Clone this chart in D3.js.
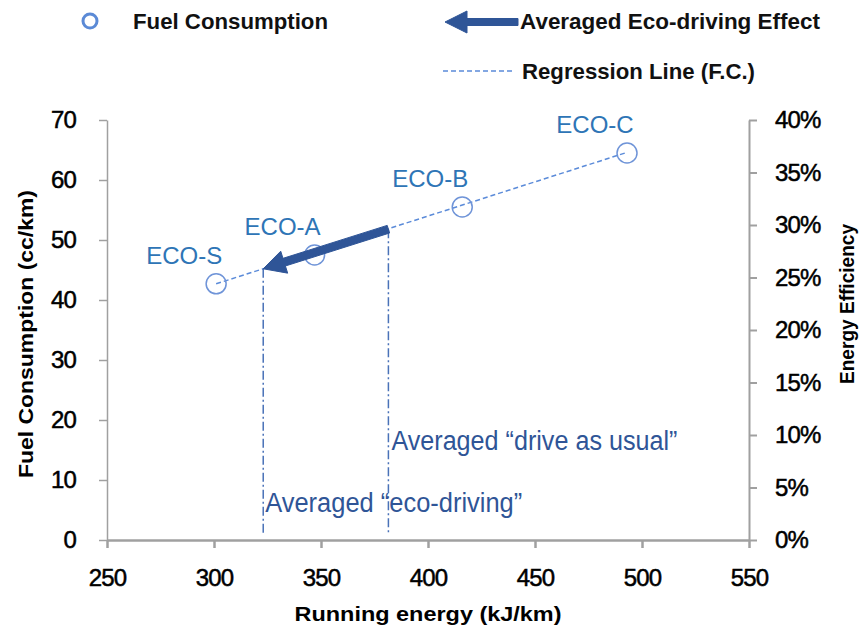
<!DOCTYPE html>
<html><head><meta charset="utf-8">
<script src="https://cdn.jsdelivr.net/npm/d3@7"></script>
<style>body{margin:0;background:#fff}svg{display:block}</style>
</head><body>
<svg id="c" width="861" height="632"></svg>
<script>
// ---- data ----
const pointLabels = ["ECO-S", "ECO-A", "ECO-B", "ECO-C"];
const runningEnergy = [301, 347, 416, 493];
const fuelConsumption = [42.7, 47.5, 55.5, 64.5];
const regressionX = [301, 493];
const regressionY = [42.7, 64.6];
const effectFrom = [381.5, 51.8];   // averaged "drive as usual"
const effectTo = [323, 45.2];       // averaged "eco-driving"
const xTicks = [250, 300, 350, 400, 450, 500, 550];
const yTicks = [0, 10, 20, 30, 40, 50, 60, 70];
const y2Ticks = [0, 0.05, 0.10, 0.15, 0.20, 0.25, 0.30, 0.35, 0.40];
const legendLabels = ["Fuel Consumption", "Averaged Eco-driving Effect", "Regression Line (F.C.)"];
const annotations = ["Averaged \u201ceco-driving\u201d", "Averaged \u201cdrive as usual\u201d"];

// ---- setup ----
const svg = d3.select("#c");
svg.append("rect").attr("width", 861).attr("height", 632).attr("fill", "#fff");
const x = d3.scaleLinear().domain([250, 550]).range([107, 749]);
const y = d3.scaleLinear().domain([0, 70]).range([540, 120]);
const y2 = d3.scaleLinear().domain([0, 0.4]).range([540, 120]);

const AX = "#a0a0a0";
const TICKFONT = "'Liberation Sans', Arial, sans-serif";
const BLUE_TXT = "#2e75b6";
const DARK_BLUE = "#2f5597";

function styleAxis(g, w) {
  g.selectAll("path.domain").attr("stroke", AX).attr("stroke-width", w);
  g.selectAll(".tick line").attr("stroke", AX).attr("stroke-width", w);
  g.selectAll(".tick text").attr("fill", "#000").attr("font-size", 24)
    .attr("font-family", TICKFONT).attr("stroke", "#000").attr("stroke-width", 0.5)
    .attr("letter-spacing", "-0.8");
}

// x axis
const gx = svg.append("g").attr("transform", `translate(0,${y(0)})`)
  .call(d3.axisBottom(x).tickValues(xTicks).tickSize(8).tickSizeOuter(0).tickPadding(21));
styleAxis(gx, 2.5);
// left axis
const gy = svg.append("g").attr("transform", `translate(${x(250)},0)`)
  .call(d3.axisLeft(y).tickValues(yTicks).tickSize(8).tickSizeOuter(0).tickPadding(23));
styleAxis(gy, 1.5);
// right axis
const gy2 = svg.append("g").attr("transform", `translate(${x(550)},0)`)
  .call(d3.axisRight(y2).tickValues(y2Ticks).tickSize(8).tickSizeOuter(0).tickPadding(18)
    .tickFormat(d3.format(".0%")));
styleAxis(gy2, 2);

// axis titles
svg.append("text").attr("x", 428).attr("y", 621).attr("text-anchor", "middle")
  .attr("font-family", TICKFONT).attr("font-weight", "bold").attr("font-size", 21)
  .attr("textLength", 267).attr("lengthAdjust", "spacingAndGlyphs")
  .text("Running energy (kJ/km)");
svg.append("text").attr("transform", "translate(33,334) rotate(-90)").attr("text-anchor", "middle")
  .attr("font-family", TICKFONT).attr("font-weight", "bold").attr("font-size", 21)
  .attr("textLength", 288).attr("lengthAdjust", "spacingAndGlyphs")
  .text("Fuel Consumption (cc/km)");
svg.append("text").attr("transform", "translate(854,304) rotate(-90)").attr("text-anchor", "middle")
  .attr("font-family", TICKFONT).attr("font-weight", "bold").attr("font-size", 21)
  .attr("textLength", 160).attr("lengthAdjust", "spacingAndGlyphs")
  .text("Energy Efficiency");

// regression line
svg.append("line")
  .attr("x1", x(regressionX[0])).attr("y1", y(regressionY[0]))
  .attr("x2", x(regressionX[1])).attr("y2", y(regressionY[1]))
  .attr("stroke", "#5b8bd9").attr("stroke-width", 1.5).attr("stroke-dasharray", "5,3");

// vertical dash-dot lines
[effectTo, effectFrom].forEach(p => {
  svg.append("line")
    .attr("x1", x(p[0])).attr("x2", x(p[0]))
    .attr("y1", y(p[1])).attr("y2", y(0.8))
    .attr("stroke", "#4a72b8").attr("stroke-width", 1.5).attr("stroke-dasharray", "9,3,2,3");
});

// points
svg.append("g").selectAll("circle").data(runningEnergy).join("circle")
  .attr("cx", d => x(d)).attr("cy", (d, i) => y(fuelConsumption[i])).attr("r", 10)
  .attr("fill", "none").attr("stroke", "#6f94d8").attr("stroke-width", 1.5);

// point labels
svg.append("g").selectAll("text").data(pointLabels).join("text")
  .attr("x", (d, i) => x(runningEnergy[i]) - 32).attr("y", (d, i) => y(fuelConsumption[i]) - 20)
  .attr("text-anchor", "middle").attr("font-family", TICKFONT).attr("font-size", 24)
  .attr("fill", BLUE_TXT).text(d => d);

// arrow shape
function arrowPoints(x0, y0, x1, y1, shaft, headLen, headW) {
  const dx = x1 - x0, dy = y1 - y0, len = Math.hypot(dx, dy);
  const ux = dx / len, uy = dy / len, nx = -uy, ny = ux;
  const bx = x1 - ux * headLen, by = y1 - uy * headLen;
  const pts = [
    [x0 + nx * shaft / 2, y0 + ny * shaft / 2],
    [bx + nx * shaft / 2, by + ny * shaft / 2],
    [bx + nx * headW / 2, by + ny * headW / 2],
    [x1, y1],
    [bx - nx * headW / 2, by - ny * headW / 2],
    [bx - nx * shaft / 2, by - ny * shaft / 2],
    [x0 - nx * shaft / 2, y0 - ny * shaft / 2]
  ];
  return pts.map(p => p.join(",")).join(" ");
}
svg.append("polygon")
  .attr("points", arrowPoints(x(effectFrom[0]), y(effectFrom[1]), x(effectTo[0]), y(effectTo[1]), 8, 22, 23))
  .attr("fill", DARK_BLUE).attr("stroke", DARK_BLUE).attr("stroke-width", 1).attr("stroke-linejoin", "round");

// annotations
svg.append("text").attr("x", x(effectTo[0]) + 2).attr("y", y(4.7))
  .attr("font-family", TICKFONT).attr("font-size", 27).attr("fill", DARK_BLUE)
  .attr("textLength", 257).attr("lengthAdjust", "spacingAndGlyphs").text(annotations[0]);
svg.append("text").attr("x", x(effectFrom[0]) + 3).attr("y", y(15))
  .attr("font-family", TICKFONT).attr("font-size", 27).attr("fill", DARK_BLUE)
  .attr("textLength", 286).attr("lengthAdjust", "spacingAndGlyphs").text(annotations[1]);

// legend
const lg = svg.append("g");
lg.append("circle").attr("cx", 90).attr("cy", 21).attr("r", 7)
  .attr("fill", "none").attr("stroke", "#5b8ad6").attr("stroke-width", 3);
lg.append("text").attr("x", 133).attr("y", 29).attr("font-family", TICKFONT)
  .attr("font-weight", "bold").attr("font-size", 22).attr("fill", "#111")
  .attr("textLength", 195).attr("lengthAdjust", "spacingAndGlyphs").text(legendLabels[0]);
lg.append("polygon").attr("points", arrowPoints(518, 22, 445, 22, 7, 22, 22))
  .attr("fill", DARK_BLUE).attr("stroke", DARK_BLUE).attr("stroke-width", 1).attr("stroke-linejoin", "round");
lg.append("text").attr("x", 520).attr("y", 29).attr("font-family", TICKFONT)
  .attr("font-weight", "bold").attr("font-size", 22).attr("fill", "#111")
  .attr("textLength", 300).attr("lengthAdjust", "spacingAndGlyphs").text(legendLabels[1]);
lg.append("line").attr("x1", 443).attr("x2", 513).attr("y1", 71).attr("y2", 71)
  .attr("stroke", "#5b8bd9").attr("stroke-width", 1.5).attr("stroke-dasharray", "5,3");
lg.append("text").attr("x", 522).attr("y", 79).attr("font-family", TICKFONT)
  .attr("font-weight", "bold").attr("font-size", 22).attr("fill", "#111")
  .attr("textLength", 233).attr("lengthAdjust", "spacingAndGlyphs").text(legendLabels[2]);
</script>
</body></html>
